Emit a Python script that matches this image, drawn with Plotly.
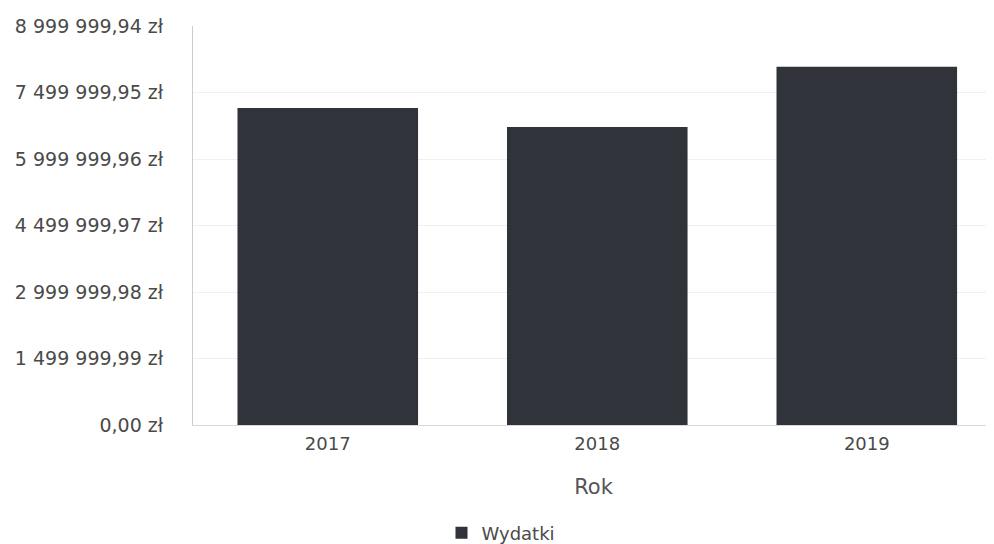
import plotly.graph_objects as go

years = ["2017", "2018", "2019"]
wydatki = [7150000, 6720000, 8080000]
tick_values = [0, 1499999.99, 2999999.98, 4499999.97, 5999999.96, 7499999.95, 8999999.94]
tick_labels = ["0,00 zł", "1 499 999,99 zł", "2 999 999,98 zł", "4 499 999,97 zł",
               "5 999 999,96 zł", "7 499 999,95 zł", "8 999 999,94 zł"]

FONT = "DejaVu Sans"
TXT = "#4a4a4a"
fig = go.Figure()
fig.add_trace(go.Bar(
    x=years, y=wydatki, name="Wydatki",
    marker=dict(color="#303339", line=dict(width=0)),
    showlegend=True,
))

fig.update_layout(
    width=986, height=536,
    paper_bgcolor="white", plot_bgcolor="white",
    margin=dict(l=185, r=0, t=18, b=119),
    bargap=0.33,
    font=dict(family=FONT, color=TXT, size=18),
    showlegend=True,
    legend=dict(orientation="h", xref="container", yref="container",
                x=0.5, xanchor="center", y=0.0205, yanchor="middle",
                font=dict(size=18, color=TXT)),
    xaxis=dict(
        type="category",
        range=[-0.5, 2.472],
        showgrid=False,
        showline=True, linecolor="#d8d8d8", linewidth=1,
        ticks="", tickfont=dict(size=18, color=TXT),
        ticklabelstandoff=2,
        title=dict(text="Rok", font=dict(size=21, color="#555555"), standoff=26),
    ),
    yaxis=dict(
        range=[0, 8999999.94],
        tickvals=tick_values, ticktext=tick_labels,
        showgrid=True, gridcolor="#f0f0f0", gridwidth=1,
        showline=True, linecolor="#cccccc", linewidth=1,
        zeroline=False,
        ticks="", tickfont=dict(size=19, color=TXT),
        ticklabelstandoff=25,
    ),
)

fig.write_html("out.html")
